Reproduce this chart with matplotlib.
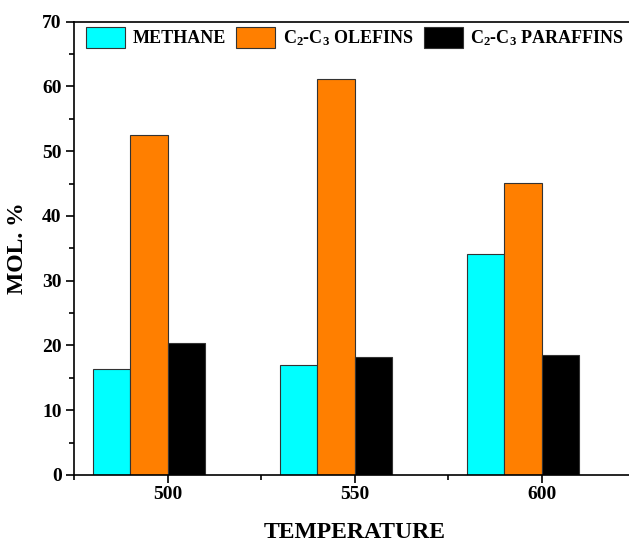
import numpy as np
import matplotlib
matplotlib.use('Agg')
import matplotlib.pyplot as plt
from matplotlib import ticker

temps = [500, 550, 600]
methane = [16.4, 17.0, 34.1]
olefins = [52.5, 61.1, 45.1]
paraffins = [20.3, 18.2, 18.5]
labels = ['METHANE', r'C$_\mathrm{2}$-C$_\mathrm{3}$ OLEFINS', r'C$_\mathrm{2}$-C$_\mathrm{3}$ PARAFFINS']

plt.rcParams['font.family'] = 'Liberation Serif'
plt.rcParams['font.weight'] = 'bold'
plt.rcParams['mathtext.fontset'] = 'custom'
plt.rcParams['mathtext.rm'] = 'Liberation Serif:bold'
plt.rcParams['mathtext.it'] = 'Liberation Serif:bold'
plt.rcParams['mathtext.bf'] = 'Liberation Serif:bold'

fig = plt.figure(figsize=(6.29, 5.44), dpi=100)
ax = fig.add_axes([0.118, 0.127, 0.892, 0.833])

x = np.array(temps)
w = 10
ec = '#333333'
ax.bar(x - 15, methane, width=w, color='#00FFFF', edgecolor=ec, linewidth=0.8, label=labels[0])
ax.bar(x - 5, olefins, width=w, color='#FF7F00', edgecolor=ec, linewidth=0.8, label=labels[1])
ax.bar(x + 5, paraffins, width=w, color='#000000', edgecolor=ec, linewidth=0.8, label=labels[2])

ax.set_xlim(475, 625)
ax.set_ylim(0, 70)
ax.set_xticks(temps)
ax.xaxis.set_minor_locator(ticker.FixedLocator([475, 525, 575, 625]))
ax.yaxis.set_major_locator(ticker.MultipleLocator(10))
ax.yaxis.set_minor_locator(ticker.MultipleLocator(5))
ax.tick_params(axis='both', which='major', direction='out', length=5.5, width=1.2, labelsize=14)
ax.tick_params(axis='x', which='major', pad=2.5)
ax.tick_params(axis='both', which='minor', direction='out', length=3.5, width=1.2)
for s in ax.spines.values():
    s.set_linewidth(1.2)

ax.set_xlabel('TEMPERATURE', fontsize=17, fontweight='bold', labelpad=14)
ax.set_ylabel('MOL. %', fontsize=17, fontweight='bold', labelpad=10)

ax.legend(loc='upper left', bbox_to_anchor=(0.0214, 0.989), ncol=3, frameon=False,
          fontsize=13, handlelength=2.16, handleheight=1.45, handletextpad=0.39,
          columnspacing=0.6, borderaxespad=0, borderpad=0)

fig.savefig('out.png', dpi=100)
